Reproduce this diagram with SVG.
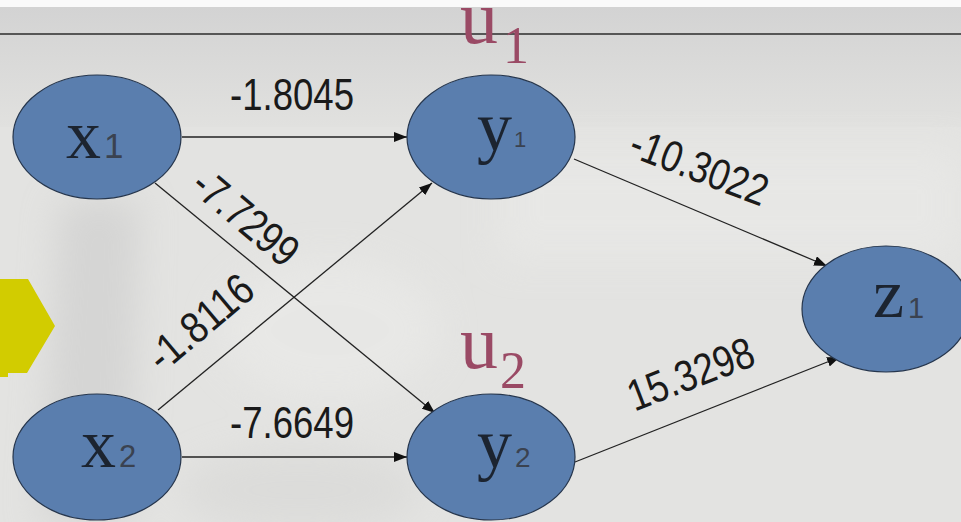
<svg xmlns="http://www.w3.org/2000/svg" width="961" height="522" viewBox="0 0 961 522">
<defs>
<style>
.node ellipse{fill:#5a7eae;stroke:#26364d;stroke-width:1.2}
.lt{font-family:"Liberation Serif",serif;font-size:70px;fill:#1c2430}
.dg{font-family:"Liberation Sans",sans-serif;fill:#3a4250}
.w{font-family:"Liberation Sans",Arial,sans-serif;font-size:44px;fill:#1a1a1a}
.u{font-family:"Liberation Serif",serif;fill:#9a4a65}
#edges line{stroke:#222;stroke-width:1.3;marker-end:url(#ah)}
</style>
<marker id="ah" markerUnits="userSpaceOnUse" markerWidth="14" markerHeight="10" refX="13" refY="5" orient="auto">
<path d="M0,0 L13,5 L0,10 z" fill="#111"/>
</marker>
<linearGradient id="topg" x1="0" y1="0" x2="0" y2="1">
<stop offset="0" stop-color="#d3d3d3"/>
<stop offset="1" stop-color="#e1e1df"/>
</linearGradient>
<filter id="bl" x="-50%" y="-50%" width="200%" height="200%"><feGaussianBlur stdDeviation="18"/></filter>
</defs>
<rect width="961" height="522" fill="#e3e3e1"/>
<rect x="0" y="7" width="961" height="120" fill="url(#topg)"/>
<g filter="url(#bl)" opacity="0.55">
<path d="M60,200 L140,200 L130,522 L40,522 Z" fill="#c9c9c9"/>
<ellipse cx="330" cy="330" rx="110" ry="70" fill="#ececea"/>
<rect x="500" y="150" width="461" height="110" fill="#ebebe9"/>
<ellipse cx="300" cy="490" rx="120" ry="40" fill="#d6d6d4"/>
</g>
<rect x="0" y="0" width="961" height="7" fill="#fafafa"/>
<line x1="0" y1="34" x2="961" y2="34" stroke="#2b2b2b" stroke-width="1.5"/>
<polygon points="0,279 28,279 55,326 27,373 8,373 8,377 0,377" fill="#d2cc00"/>

<g id="edges">
<line x1="182" y1="137" x2="407" y2="137"/>
<line x1="155" y1="183" x2="435" y2="413"/>
<line x1="158" y1="410" x2="432" y2="183"/>
<line x1="182" y1="457" x2="407" y2="457"/>
<line x1="574" y1="159" x2="827" y2="266"/>
<line x1="575" y1="462" x2="840" y2="357"/>
</g>

<g id="edge-labels">
<text class="w" x="230" y="110" textLength="124" lengthAdjust="spacingAndGlyphs">-1.8045</text>
<text class="w" transform="translate(236,229) rotate(40)" text-anchor="middle" textLength="124" lengthAdjust="spacingAndGlyphs">-7.7299</text>
<text class="w" transform="translate(210,334) rotate(-40)" text-anchor="middle" textLength="124" lengthAdjust="spacingAndGlyphs">-1.8116</text>
<text class="w" x="230" y="438" textLength="124" lengthAdjust="spacingAndGlyphs">-7.6649</text>
<text class="w" transform="translate(694,181) rotate(21)" text-anchor="middle" textLength="144" lengthAdjust="spacingAndGlyphs">-10.3022</text>
<text class="w" transform="translate(696,388) rotate(-21)" text-anchor="middle" textLength="132" lengthAdjust="spacingAndGlyphs">15.3298</text>
</g>

<g id="x1" class="node">
<ellipse cx="97" cy="137" rx="84" ry="62"/>
<text class="lt" x="66" y="158">x</text>
<text class="dg" x="104" y="158" font-size="35">1</text>
</g>
<g id="x2" class="node">
<ellipse cx="97" cy="457" rx="84" ry="63"/>
<text class="lt" x="81" y="467">x</text>
<text class="dg" x="119" y="467" font-size="31">2</text>
</g>
<g id="y1" class="node">
<ellipse cx="491" cy="137" rx="84" ry="62"/>
<text class="lt" x="477" y="150">y</text>
<text class="dg" x="514" y="147" font-size="22">1</text>
</g>
<g id="y2" class="node">
<ellipse cx="491" cy="457" rx="84" ry="63"/>
<text class="lt" x="477" y="467">y</text>
<text class="dg" x="515" y="467" font-size="28">2</text>
</g>
<g id="z1" class="node">
<ellipse cx="886" cy="309" rx="84" ry="63"/>
<text class="lt" x="873" y="317">z</text>
<text class="dg" x="908" y="318" font-size="29">1</text>
</g>

<g id="u1">
<text class="u" x="460" y="43" font-size="76">u</text>
<text class="u" x="503" y="63" font-size="52">1</text>
</g>
<g id="u2">
<text class="u" x="460" y="368" font-size="76">u</text>
<text class="u" x="500" y="388" font-size="52">2</text>
</g>
</svg>
